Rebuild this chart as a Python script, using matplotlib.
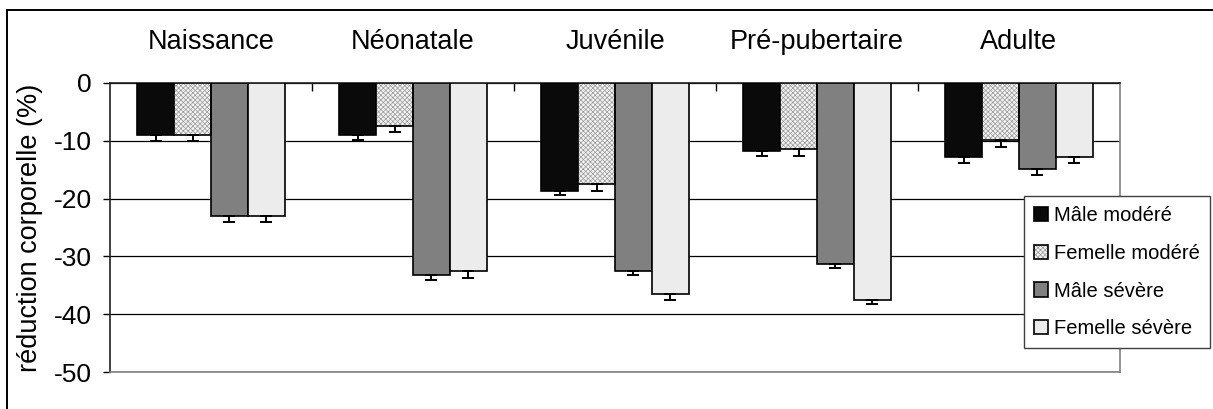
import matplotlib

matplotlib.use("Agg")
import matplotlib.pyplot as plt
import numpy as np
from matplotlib.legend_handler import HandlerTuple
from matplotlib.patches import Patch, Rectangle

plt.rcParams["font.family"] = ["Liberation Sans", "DejaVu Sans"]
plt.rcParams["axes.unicode_minus"] = False
plt.rcParams["hatch.linewidth"] = 0.5

STAGES = ["Naissance", "Néonatale", "Juvénile", "Pré-pubertaire", "Adulte"]
GROUPS = ["Mâle modéré", "Femelle modéré", "Mâle sévère", "Femelle sévère"]

male_moderate = [-9.0, -9.0, -18.6, -11.7, -12.8]
female_moderate = [-9.0, -7.5, -17.5, -11.5, -9.9]
male_severe = [-23.0, -33.3, -32.6, -31.3, -14.8]
female_severe = [-23.0, -32.6, -36.5, -37.5, -12.8]

male_moderate_err = [1.0, 0.9, 0.7, 1.0, 1.0]
female_moderate_err = [1.0, 1.0, 1.1, 1.2, 1.1]
male_severe_err = [1.1, 0.8, 0.7, 0.7, 1.1]
female_severe_err = [1.0, 1.1, 1.0, 0.7, 1.0]

FILLS = ["#0a0a0a", "#f2f2f2", "#808080", "#ececec"]
HATCHES = [None, "xxxxxxx", None, None]
HATCH_COLOR = "#9a9a9a"

fig = plt.figure(figsize=(12.13, 4.09), dpi=100)
ax = fig.add_axes([110 / 1213, 1 - 372 / 409, 1010 / 1213, 289 / 409])

x = np.arange(len(STAGES))
width = 0.183
series = [male_moderate, female_moderate, male_severe, female_severe]
errors = [male_moderate_err, female_moderate_err, male_severe_err, female_severe_err]

handles = []
for i, (vals, errs, fill, hatch) in enumerate(zip(series, errors, FILLS, HATCHES)):
    pos = x + (i - 1.5) * width
    if hatch:
        # hatch drawn in grey underneath, black outline on top
        ax.bar(pos, vals, width, facecolor=fill, hatch=hatch,
               edgecolor=HATCH_COLOR, linewidth=0, zorder=3)
        ax.bar(pos, vals, width, fill=False, edgecolor="black",
               linewidth=1.2, zorder=3.5)
        handles.append((Patch(facecolor=fill, hatch=hatch, edgecolor=HATCH_COLOR, linewidth=0),
                        Patch(fill=False, edgecolor="black", linewidth=1.2)))
    else:
        ax.bar(pos, vals, width, facecolor=fill, edgecolor="black",
               linewidth=1.2, zorder=3)
        handles.append(Patch(facecolor=fill, edgecolor="black", linewidth=1.2))
    ax.errorbar(pos, vals, yerr=[errs, [0] * len(errs)], fmt="none",
                ecolor="black", elinewidth=1.4, capsize=4, capthick=1.4, zorder=4)

ax.set_xlim(-0.5, len(STAGES) - 0.5)
ax.set_ylim(-50, 0)
ax.set_yticks(np.arange(-50, 1, 10))
ax.yaxis.grid(True, color="black", linewidth=0.9, zorder=0)
ax.set_axisbelow(True)

ax.set_xticks(x)
ax.set_xticklabels(STAGES, fontsize=19.5)
ax.set_xticks(x[:-1] + 0.5, minor=True)
ax.tick_params(axis="x", which="major", bottom=False, top=False,
               labelbottom=False, labeltop=True, pad=17)
ax.tick_params(axis="x", which="minor", bottom=False, top=True,
               direction="in", length=6, width=1.0)
ax.tick_params(axis="y", direction="out", length=5, width=1.0,
               labelsize=19, pad=8)
ax.set_ylabel("réduction corporelle (%)", fontsize=19.5)
ax.yaxis.set_label_coords(-0.066, 0.5)

ax.spines["top"].set_color("#202020")
ax.spines["left"].set_color("#202020")
ax.spines["right"].set_color("#808080")
ax.spines["bottom"].set_color("#808080")
for side in ax.spines.values():
    side.set_linewidth(1.2)

fig.legend(handles, GROUPS, loc="upper left",
           bbox_to_anchor=(1024 / 1213, 1 - 196 / 409),
           handler_map={tuple: HandlerTuple(ndivide=1, pad=0)},
           fontsize=14.5, frameon=True, fancybox=False, edgecolor="#404040",
           framealpha=1, handlelength=0.7, handleheight=0.7,
           handletextpad=0.3, labelspacing=0.93, borderpad=0.5,
           borderaxespad=0)

# outer chart frame
fig.patches.append(Rectangle((7 / 1213, -0.2), 1.2, 1.2 - 9.5 / 409,
                             transform=fig.transFigure, fill=False,
                             edgecolor="black", linewidth=1.4))

fig.savefig("out.png", dpi=100)
